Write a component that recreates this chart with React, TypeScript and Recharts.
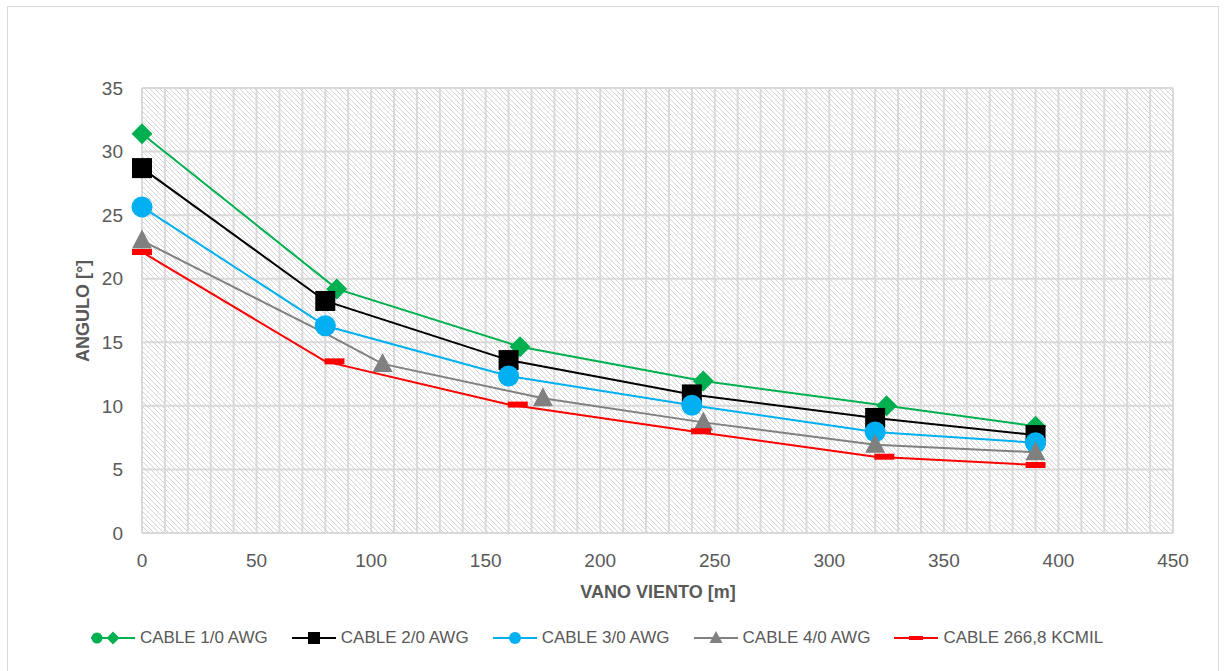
import React from "react";
import {
  ComposedChart, Line, Scatter, XAxis, YAxis, CartesianGrid,
} from "recharts";

// vano viento [m] where the cables were evaluated
const VANO = [0, 80, 160, 240, 320, 390];

// CABLE 1/0 AWG (markers and line share points)
const C10_X = [0, 85, 165, 245, 325, 390];
const C10_Y = [31.4, 19.2, 14.65, 11.95, 10.0, 8.4];

// CABLE 2/0 AWG
const C20_Y = [28.7, 18.25, 13.6, 10.9, 9.05, 7.7];

// CABLE 3/0 AWG
const C30_Y = [25.65, 16.3, 12.35, 10.05, 7.95, 7.1];

// CABLE 4/0 AWG (line has an extra vertex at 80 m)
const C40_LINE_X = [0, 80, 105, 175, 245, 320, 390];
const C40_LINE_Y = [23.0, 15.7, 13.3, 10.6, 8.7, 6.95, 6.35];
const C40_MARK_X = [0, 105, 175, 245, 320, 390];
const C40_MARK_Y = [23.0, 13.3, 10.6, 8.7, 6.95, 6.35];

// CABLE 266,8 KCMIL (dash markers sit slightly right of the vertices)
const C266_LINE_Y = [22.1, 13.5, 10.1, 8.0, 6.0, 5.35];
const C266_MARK_X = [0, 84, 164, 244, 324, 390];

const X_LABELS = [0, 50, 100, 150, 200, 250, 300, 350, 400, 450];
const Y_TICKS = [0, 5, 10, 15, 20, 25, 30, 35];
const X_GRID_STEP = 10;

const xGrid: number[] = [];
for (let v = 0; v <= 450; v += X_GRID_STEP) xGrid.push(v);

const pts = (xs: number[], ys: number[]) => xs.map((x, i) => ({ x, y: ys[i] }));

const GREEN = "#00b050";
const BLACK = "#000000";
const BLUE = "#00b0f0";
const GRAY = "#808080";
const RED = "#ff0000";

const TXT = "#595959";
const FONT = "'Liberation Sans', Arial, sans-serif";

const Diamond = ({ cx, cy }: any) => (
  <path d={`M${cx},${cy - 10.5} L${cx + 10.5},${cy} L${cx},${cy + 10.5} L${cx - 10.5},${cy} Z`} fill={GREEN} />
);
const Square = ({ cx, cy }: any) => (
  <rect x={cx - 10} y={cy - 10} width={20} height={20} fill={BLACK} />
);
const Circle = ({ cx, cy }: any) => <circle cx={cx} cy={cy} r={10.5} fill={BLUE} />;
const Triangle = ({ cx, cy }: any) => (
  <path d={`M${cx},${cy - 11} L${cx + 10},${cy + 8} L${cx - 10},${cy + 8} Z`} fill={GRAY} />
);
const Dash = ({ cx, cy }: any) => (
  <rect x={cx - 10} y={cy - 3} width={20} height={6} fill={RED} />
);

const LEGEND = [
  { name: "CABLE 1/0 AWG", color: GREEN, kind: "diamond" },
  { name: "CABLE 2/0 AWG", color: BLACK, kind: "square" },
  { name: "CABLE 3/0 AWG", color: BLUE, kind: "circle" },
  { name: "CABLE 4/0 AWG", color: GRAY, kind: "triangle" },
  { name: "CABLE 266,8 KCMIL", color: RED, kind: "dash" },
];

function LegendIcon({ color, kind }: { color: string; kind: string }) {
  const c = 22;
  const m = 10;
  return (
    <svg width={44} height={20} style={{ display: "block" }}>
      <line x1={0} y1={m} x2={44} y2={m} stroke={color} strokeWidth={2} />
      {kind === "diamond" && (
        <>
          <circle cx={6} cy={m} r={5.5} fill={color} />
          <path d={`M${c},${m - 6.5} L${c + 6.5},${m} L${c},${m + 6.5} L${c - 6.5},${m} Z`} fill={color} />
        </>
      )}
      {kind === "square" && <rect x={c - 6} y={m - 6} width={12} height={12} fill={color} />}
      {kind === "circle" && <circle cx={c} cy={m} r={6} fill={color} />}
      {kind === "triangle" && <path d={`M${c},${m - 7} L${c + 6.5},${m + 5} L${c - 6.5},${m + 5} Z`} fill={color} />}
      {kind === "dash" && <rect x={c - 7} y={m - 2} width={14} height={4} fill={color} />}
    </svg>
  );
}

export default function App() {
  return (
    <div
      style={{
        position: "absolute", left: 7, top: 6, width: 1212, height: 665,
        border: "1px solid #d9d9d9", borderBottom: "none", boxSizing: "border-box",
        background: "#fff", overflow: "hidden",
      }}
    >
      <svg width={0} height={0} style={{ position: "absolute" }}>
        <defs>
          <pattern id="hatch" patternUnits="userSpaceOnUse" width={5} height={5}>
            <rect width={5} height={5} fill="#ffffff" />
            <path d="M0,0 L5,5 M-1,4 L1,6 M4,-1 L6,1" stroke="#d4d4d4" strokeWidth={1} />
          </pattern>
        </defs>
      </svg>

      <ComposedChart
        width={1210}
        height={664}
        margin={{ top: 81, right: 45, bottom: 108, left: 74 }}
      >
        <CartesianGrid fill="url(#hatch)" stroke="#d9d9d9" strokeWidth={2} fillOpacity={1} />
        <XAxis
          type="number"
          dataKey="x"
          domain={[0, 450]}
          ticks={xGrid}
          interval={0}
          tickFormatter={(v: number) => (X_LABELS.includes(v) ? String(v) : "")}
          axisLine={false}
          tickLine={false}
          height={30}
          tickMargin={15}
          tick={{ fill: TXT, fontSize: 19, fontFamily: FONT }}
        />
        <YAxis
          type="number"
          dataKey="y"
          domain={[0, 35]}
          ticks={Y_TICKS}
          interval={0}
          axisLine={false}
          tickLine={false}
          width={60}
          tickMargin={13}
          tick={{ fill: TXT, fontSize: 19, fontFamily: FONT }}
        />

        <Line data={pts(C10_X, C10_Y)} dataKey="y" stroke={GREEN} strokeWidth={2} dot={false} isAnimationActive={false} />
        <Scatter data={pts(C10_X, C10_Y)} dataKey="y" shape={Diamond} isAnimationActive={false} />

        <Line data={pts(VANO, C20_Y)} dataKey="y" stroke={BLACK} strokeWidth={2} dot={false} isAnimationActive={false} />
        <Scatter data={pts(VANO, C20_Y)} dataKey="y" shape={Square} isAnimationActive={false} />

        <Line data={pts(VANO, C30_Y)} dataKey="y" stroke={BLUE} strokeWidth={2} dot={false} isAnimationActive={false} />
        <Scatter data={pts(VANO, C30_Y)} dataKey="y" shape={Circle} isAnimationActive={false} />

        <Line data={pts(C40_LINE_X, C40_LINE_Y)} dataKey="y" stroke={GRAY} strokeWidth={2} dot={false} isAnimationActive={false} />
        <Scatter data={pts(C40_MARK_X, C40_MARK_Y)} dataKey="y" shape={Triangle} isAnimationActive={false} />

        <Line data={pts(VANO, C266_LINE_Y)} dataKey="y" stroke={RED} strokeWidth={2} dot={false} isAnimationActive={false} />
        <Scatter data={pts(C266_MARK_X, C266_LINE_Y)} dataKey="y" shape={Dash} isAnimationActive={false} />
      </ComposedChart>

      {/* axis titles */}
      <div
        style={{
          position: "absolute", left: 75, top: 304, whiteSpace: "nowrap",
          transform: "translate(-50%, -50%) rotate(-90deg)",
          fontFamily: FONT, fontWeight: 700, fontSize: 18, color: TXT,
        }}
      >
        ANGULO [°]
      </div>
      <div
        style={{
          position: "absolute", left: 0, width: 1300, top: 575, textAlign: "center",
          fontFamily: FONT, fontWeight: 700, fontSize: 18, color: TXT,
        }}
      >
        VANO VIENTO [m]
      </div>

      {/* legend */}
      <div
        style={{
          position: "absolute", left: 0, right: 0, top: 621, display: "flex",
          justifyContent: "center", alignItems: "center", gap: 24,
          fontFamily: FONT, fontSize: 17, color: TXT, paddingRight: 32,
        }}
      >
        {LEGEND.map((l) => (
          <div key={l.name} style={{ display: "flex", alignItems: "center", gap: 5 }}>
            <LegendIcon color={l.color} kind={l.kind} />
            <span>{l.name}</span>
          </div>
        ))}
      </div>
    </div>
  );
}
